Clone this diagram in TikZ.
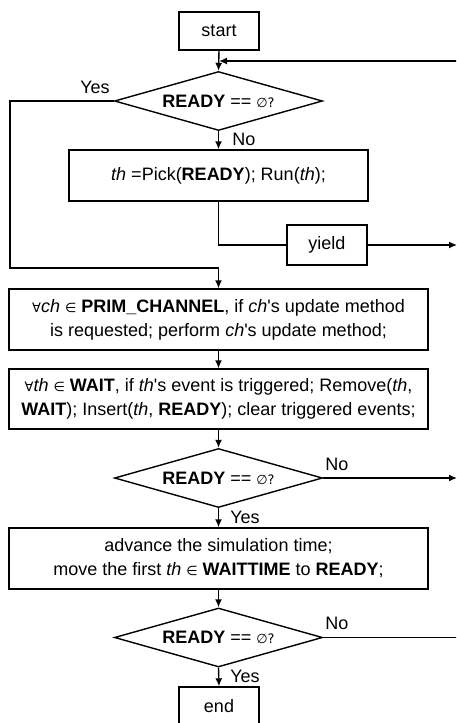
\documentclass[tikz,border=0pt]{standalone}
\usepackage{fontspec}
\setmainfont{Liberation Sans}
\newfontfamily\symfont{DejaVu Sans}
\usetikzlibrary{shapes.geometric,arrows.meta}
\newcommand{\smsym}[1]{{\fontsize{13}{15}\selectfont\symfont #1}}
\newcommand{\rdy}{\textbf{READY}}
\newcommand{\q}{\textquotesingle}
\begin{document}
\begin{tikzpicture}[x=1pt,y=-1pt,
  font=\fontsize{18}{24}\selectfont,
  line width=1.4pt,
  box/.style={draw,rectangle,inner sep=0pt,align=center},
  dec/.style={draw,diamond,aspect=3.6,inner sep=0pt,minimum width=208,minimum height=59},
  arr/.style={-{Latex[length=8pt,width=7pt]}},
  lbl/.style={inner sep=0pt}]
\useasboundingbox (0,0) rectangle (456,723);
\clip (0,0) rectangle (456,723);
\node[box,minimum width=80,minimum height=38] (start) at (219,31) {start};
\node[dec] (d1) at (218.5,101) {\rdy{} == \smsym{∅?}};
\node[box,minimum width=299,minimum height=51] (b1) at (218.5,175.5) {\textit{th} =Pick(\rdy); Run(\textit{th});};
\node[box,minimum width=80,minimum height=40] (yield) at (327,245) {yield};
\node[box,minimum width=419,minimum height=61] (b2) at (218.5,319.5) {\smsym{∀}\textit{ch} \smsym{∈} \textbf{PRIM\_CHANNEL}, if \textit{ch}\q s update method\\is requested; perform \textit{ch}\q s update method;};
\node[box,minimum width=419,minimum height=60] (b3) at (218.5,399) {\smsym{∀}\textit{th} \smsym{∈} \textbf{WAIT}, if \textit{th}\q s event is triggered; Remove(\textit{th},\\\textbf{WAIT}); Insert(\textit{th}, \rdy); clear triggered events;};
\node[dec] (d2) at (218.5,478) {\rdy{} == \smsym{∅?}};
\node[box,minimum width=419,minimum height=61] (b4) at (218.5,558.5) {advance the simulation time;\\move the first \textit{th} \smsym{∈} \textbf{WAITTIME} to \rdy;};
\node[dec] (d3) at (218.5,637.5) {\rdy{} == \smsym{∅?}};
\node[box,minimum width=80,minimum height=38] (end) at (219,706) {end};
\coordinate (rtop) at (458,61);
\coordinate (ryield) at (457,245);
\coordinate (rd2) at (457,478);
\coordinate (rd3) at (458,637.5);
\coordinate (lft) at (10,0);
\draw[arr] (start.south) -- (d1.north);
\draw[arr] (rtop) -- (start.south |- rtop);
\draw[arr] (d1.south) -- (b1.north);
\draw[arr] (d1.west) -| (lft |- 0,268) -| (b2.north);
\draw (b1.south) |- (yield.west);
\draw[arr] (yield.east) -- (ryield);
\draw[arr] (b2.south) -- (b3.north);
\draw[arr] (b3.south) -- (d2.north);
\draw[arr] (d2.east) -- (rd2);
\draw[arr] (d2.south) -- (b4.north);
\draw[arr] (b4.south) -- (d3.north);
\draw (d3.east) -- (rd3);
\draw[arr] (d3.south) -- (end.north);
\node[lbl] (ly1) at (95,87) {Yes};
\node[lbl] (ln1) at (244,139) {No};
\node[lbl] (ln2) at (337,464) {No};
\node[lbl] (ly2) at (245,517) {Yes};
\node[lbl] (ln3) at (337,623) {No};
\node[lbl] (ly3) at (245,676) {Yes};
\end{tikzpicture}
\end{document}
